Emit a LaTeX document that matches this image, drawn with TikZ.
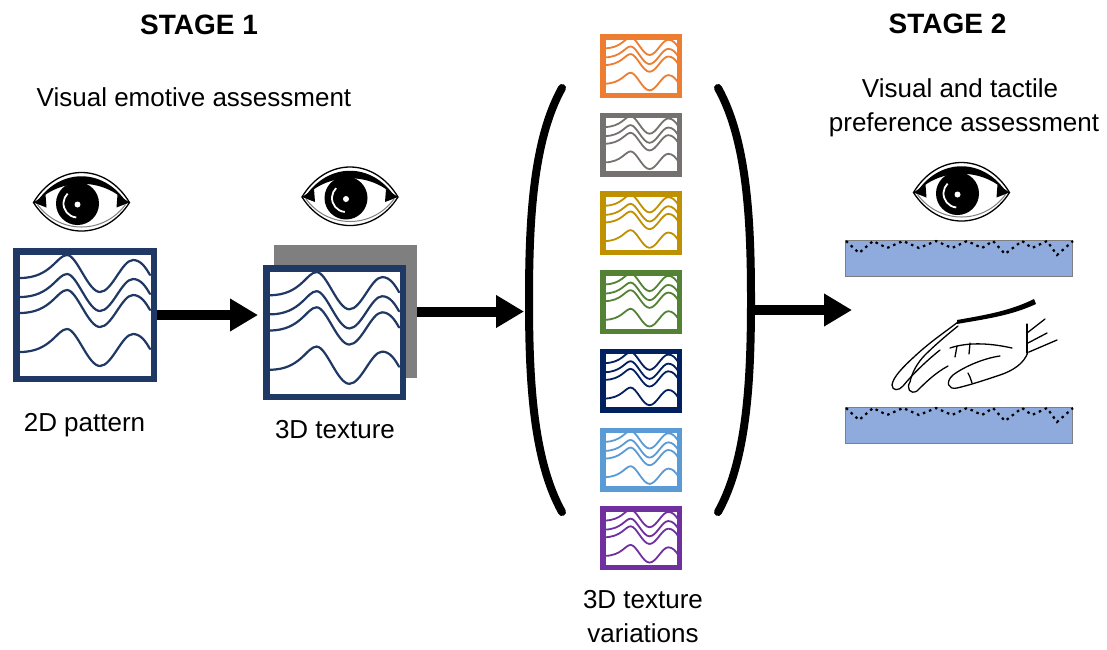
\documentclass[tikz,border=0pt]{standalone}
\usepackage{fontspec}
\setmainfont{Liberation Sans}
\usetikzlibrary{arrows.meta}

\definecolor{navy}{HTML}{203864}
\definecolor{vorange}{HTML}{ED7D31}
\definecolor{vgray}{HTML}{767171}
\definecolor{vgold}{HTML}{BF9000}
\definecolor{vgreen}{HTML}{548235}
\definecolor{vnavy}{HTML}{002060}
\definecolor{vblue}{HTML}{5B9BD5}
\definecolor{vpurple}{HTML}{7030A0}
\definecolor{shade}{HTML}{7F7F7F}
\definecolor{surface}{HTML}{8FAADC}

% four wavy profile lines drawn inside a texture box (box units 144 x 134)
\newcommand{\texturewaves}[5]{%
  \begin{scope}[shift={(#1.north west)}, xscale=#2, yscale=#3]
    \foreach \yb in {30,49,65,104}{
      \draw[#4, line width=#5, line cap=round]
        (7,\yb) .. controls (38,\yb) and (44,\yb-23) .. (54,\yb-23)
        .. controls (64,\yb-23) and (75,\yb+14) .. (87,\yb+14)
        .. controls (99,\yb+14) and (109,\yb-18) .. (120,\yb-18)
        .. controls (128,\yb-18) and (133,\yb-10) .. (137,\yb-3);
    }
  \end{scope}}

% dotted relief profile along the top of a surface block
\newcommand{\reliefprofile}[1]{%
  \draw[profile, shift={(#1.north west)}]
    (1,1) -- (14,13) -- (28,1) -- (42,8) -- (58,1) -- (74,8) -- (91,1)
    -- (107,8) -- (122,1) -- (137,8) -- (148,1) -- (160,14) -- (177,1)
    -- (187,8) -- (202,1) -- (212,15) -- (228,1);}

\tikzset{
  eye/.pic={
    \draw[line width=1.3pt, fill=white]
      (-48,0) .. controls (-24,-40) and (24,-40) .. (48,0)
      .. controls (24,38) and (-24,38) .. cycle;
    \fill (-45,0) .. controls (-22,-35) and (22,-35) .. (45,0)
      .. controls (22,-25) and (-22,-25) .. cycle;
    \draw[gray, line width=1pt] (-44,2) .. controls (-22,32) and (22,32) .. (44,2);
    \fill (-48,0) -- (-36,-8) -- (-35,5) -- cycle;
    \fill (48,0) -- (36,-8) -- (35,5) -- cycle;
    \fill (-4,1) circle[radius=21.5];
    \draw[white, line width=1.8pt] (-4,1) ++(95:14) arc[start angle=95, end angle=225, radius=14];
    \fill[white] (-4,2) circle[radius=3];
  }
}

\begin{document}
\begin{tikzpicture}[x=1pt, y=-1pt,
  ttl/.style={font=\fontsize{28}{34}\selectfont\bfseries, inner sep=0pt},
  lbl/.style={font=\fontsize{26}{34}\selectfont, inner sep=0pt},
  bigbox/.style={draw=navy, line width=6.5pt, fill=white, inner sep=0pt},
  smallbox/.style={draw=#1, line width=5.5pt, fill=white, minimum width=76.5pt, minimum height=58.5pt, inner sep=0pt},
  bigarrow/.style={line width=10pt, -{Triangle[length=28pt,width=31pt]}},
  bracket/.style={line width=8pt, line cap=round},
  surfacebox/.style={draw=shade, line width=1.2pt, fill=surface, minimum width=226.8pt, minimum height=35.8pt, inner sep=0pt},
  profile/.style={line width=2.2pt, dash pattern=on 2.5pt off 4pt},
  sketch/.style={line width=1.3pt, line cap=round, line join=round},
]
\useasboundingbox (0,0) rectangle (1107,649);

% titles
\node[ttl, anchor=base] (stage1) at (199,34) {STAGE 1};
\node[ttl, anchor=base] (stage2) at (947.5,33) {STAGE 2};
\node[lbl, anchor=base] (visemo) at (194,106) {Visual emotive assessment};
\node[lbl, anchor=base] (vistacA) at (960,97) {Visual and tactile};
\node[lbl, anchor=base] (vistacB) at (964,131) {preference assessment};

% eyes
\pic (eyeA) at (81.5,202.5) {eye};
\pic (eyeB) at (350,197) {eye};
\pic (eyeC) at (961.5,192.5) {eye};

% stage 1: 2D pattern
\node[bigbox, minimum width=137.5pt, minimum height=127.5pt] (box2d) at (85,315) {};
\texturewaves{box2d}{1}{1}{navy}{2.2pt}
\node[lbl, anchor=base] (lbl2d) at (84.5,431) {2D pattern};

% stage 1: 3D texture with its depth shadow
\node[fill=shade, minimum width=143pt, minimum height=133pt, inner sep=0pt] (shadow) at (345.5,311.5) {};
\node[bigbox, minimum width=136.5pt, minimum height=128.5pt] (box3d) at (334.5,332.5) {};
\texturewaves{box3d}{0.993}{1.007}{navy}{2.2pt}
\node[lbl, anchor=base] (lbl3d) at (335,438) {3D texture};

% texture variations
\foreach \i/\c/\yc in {1/vorange/66, 2/vgray/144.7, 3/vgold/223.4, 4/vgreen/302.1,
                       5/vnavy/380.8, 6/vblue/459.5, 7/vpurple/538.2}{
  \node[smallbox=\c] (var\i) at (641,\yc) {};
  \texturewaves{var\i}{0.569}{0.478}{\c}{1.8pt}
}
\node[lbl, anchor=base] (lblvarA) at (643,608) {3D texture};
\node[lbl, anchor=base] (lblvarB) at (643,642) {variations};

% brackets around the variations
\draw[bracket] (562,88) .. controls (533,140) and (529,220) .. (529,300)
  .. controls (529,380) and (533,460) .. (562,512);
\draw[bracket] (718,88) .. controls (747,140) and (751,220) .. (751,300)
  .. controls (751,380) and (747,460) .. (718,512);

% stage 2 surfaces
\node[surfacebox] (surf1) at (959,258.5) {};
\reliefprofile{surf1}
\node[surfacebox] (surf2) at (959,425.5) {};
\reliefprofile{surf2}

% hand touching the lower surface
\begin{scope}[sketch]
  \fill (1034,299) .. controls (1010,311) and (985,315) .. (957,320)
    -- (957,324) .. controls (985,319) and (1010,316) .. (1036,304) -- cycle;
  \draw (958,322) .. controls (945,332) and (930,342) .. (915,356)
    .. controls (903,367) and (893,377) .. (892,385)
    .. controls (892,391) and (899,391) .. (903,386)
    .. controls (912,375) and (925,362) .. (940,350);
  \draw (958,326) .. controls (948,334) and (935,345) .. (925,355)
    .. controls (918,362) and (912,372) .. (910,382)
    .. controls (906,388) and (910,395) .. (917,391)
    .. controls (925,383) and (935,373) .. (948,366);
  \draw (950,348) .. controls (965,343) and (985,342) .. (1012,348);
  \draw (970,343) -- (969,354);
  \draw (957,346) -- (955,357);
  \draw (1000,356) .. controls (985,358) and (965,366) .. (953,375)
    .. controls (945,382) and (948,390) .. (957,388)
    .. controls (970,385) and (985,380) .. (1000,375)
    .. controls (1012,371) and (1024,364) .. (1028,352);
  \draw (968,373) .. controls (970,377) .. (972,383);
  \draw (1027,324) -- (1027,353);
  \draw (1027,333) -- (1045,319);
  \draw (1028,343) -- (1047,333);
  \draw (1029,352) -- (1057,340);
\end{scope}

% flow arrows
\coordinate (lpar) at (524,311.5);
\coordinate (rpar) at (748,310);
\coordinate (tact) at (852,310);
\draw[bigarrow, shorten >=5pt] (box2d.east) -- (box2d.east -| box3d.west);
\draw[bigarrow] (shadow.east) -- (lpar);
\draw[bigarrow] (rpar) -- (tact);
\end{tikzpicture}
\end{document}
